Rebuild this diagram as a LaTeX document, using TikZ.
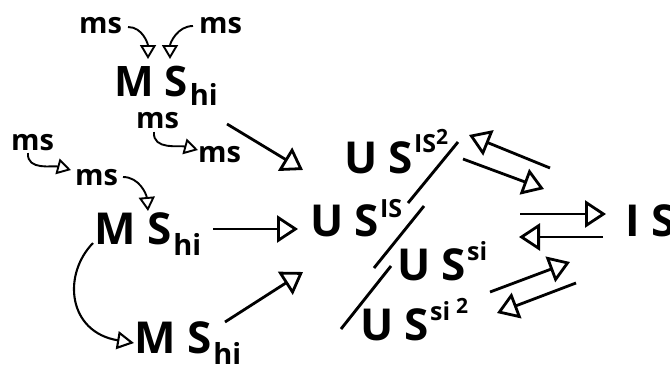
\documentclass[tikz,border=0pt]{standalone}
\usepackage{fontspec}
\setmainfont{Open Sans}
\usetikzlibrary{arrows.meta}
\newcommand\fbig{\fontsize{44}{44}\selectfont}
\newcommand\fms{\fontsize{29}{29}\selectfont}
\newcommand\fsupr{\fontsize{25}{25}\selectfont}
\newcommand\ftwo{\fontsize{21}{21}\selectfont}
\newcommand\MSH[2]{{#1M S}\hspace{2pt}\raisebox{#2}{\fms hi}}
\newcommand\USx{{\fbig U S}}
\begin{document}
\begin{tikzpicture}[x=1pt,y=-1pt,
  txt/.style={inner sep=0pt,anchor=base west,font=\bfseries},
  bigarr/.style={line width=2.8pt,-{Triangle[open,length=21pt,width=27pt]}},
  smallarr/.style={line width=1.9pt,-{Triangle[open,length=14pt,width=16pt]}},
  midarr/.style={line width=2.1pt,-{Triangle[open,length=17pt,width=18pt]}},
  sepline/.style={line width=2.9pt}]
\useasboundingbox (0,0) rectangle (670,365);
% texts
\node[txt] (ms1) at (79,33) {\fms ms};
\node[txt] (ms2) at (199,33) {\fms ms};
\node[txt] (MSa) at (114,96) {\MSH{\fontsize{42}{42}\selectfont}{-9pt}};
\node[txt] (ms3) at (136,128) {\fms ms};
\node[txt] (ms4) at (198,162) {\fms ms};
\node[txt] (ms5) at (11,150) {\fms ms};
\node[txt] (ms6) at (75,185) {\fms ms};
\node[txt] (MSb) at (94,244) {\MSH{\fbig}{-11pt}};
\node[txt] (MSc) at (134,353) {\MSH{\fbig}{-11pt}};
\node[txt] (USa) at (344,173) {\USx\hspace{1pt}\raisebox{21pt}{\fsupr IS\raisebox{8pt}{\ftwo 2}}};
\node[txt] (USb) at (310,236) {\USx\hspace{1pt}\raisebox{19pt}{\fsupr IS}};
\node[txt] (USc) at (397,280) {\USx\hspace{1pt}\raisebox{20pt}{\fsupr si}};
\node[txt] (USd) at (360,340) {\USx\hspace{1pt}\raisebox{20pt}{\fsupr si\hspace{6pt}\raisebox{7pt}{\ftwo 2}}};
\node[txt] (IS) at (625,236) {{\fbig I S}};
% small curved arrows
\coordinate (c1s) at (128,27); \coordinate (c1e) at (148,59);
\coordinate (c2s) at (193,26); \coordinate (c2e) at (170,59);
\coordinate (c3s) at (154,132); \coordinate (c3e) at (198,150);
\coordinate (c5s) at (28,153); \coordinate (c5e) at (71,170);
\coordinate (c6s) at (123,177); \coordinate (c6e) at (148,211);
\draw[smallarr] (c1s) to[out=0,in=90] (c1e);
\draw[smallarr] (c2s) to[out=180,in=90] (c2e);
\draw[smallarr] (c3s) to[out=-95,in=165] (c3e);
\draw[smallarr] (c5s) to[out=-95,in=165] (c5e);
\draw[smallarr] (c6s) to[out=0,in=95] (c6e);
% MS -> MS curve
\coordinate (c7s) at (93,243); \coordinate (c7e) at (134,343);
\draw[midarr] (c7s) .. controls (62,275) and (68,332) .. (c7e);
% big arrows to USIS
\coordinate (b1s) at (227,124); \coordinate (b1e) at (303,170);
\coordinate (b2s) at (213,229); \coordinate (b2e) at (298,229);
\coordinate (b3s) at (225,322); \coordinate (b3e) at (303,272);
\draw[bigarr] (b1s) -- (b1e);
\draw[bigarr] (b2s) -- (b2e);
\draw[bigarr] (b3s) -- (b3e);
% separators
\draw[sepline] (458,142) -- (408,203);
\draw[sepline] (424,206) -- (374,268);
\draw[sepline] (391,266) -- (341,329);
% right arrows
\coordinate (r1s) at (550,168); \coordinate (r1e) at (469,135);
\coordinate (r2s) at (463,159); \coordinate (r2e) at (544,189);
\coordinate (r3s) at (520,214); \coordinate (r3e) at (606,214);
\coordinate (r4s) at (603,237); \coordinate (r4e) at (519,237);
\coordinate (r5s) at (490,292); \coordinate (r5e) at (570,262);
\coordinate (r6s) at (576,283); \coordinate (r6e) at (497,313);
\draw[bigarr] (r1s) -- (r1e);
\draw[bigarr] (r2s) -- (r2e);
\draw[bigarr] (r3s) -- (r3e);
\draw[bigarr] (r4s) -- (r4e);
\draw[bigarr] (r5s) -- (r5e);
\draw[bigarr] (r6s) -- (r6e);
\end{tikzpicture}
\end{document}
